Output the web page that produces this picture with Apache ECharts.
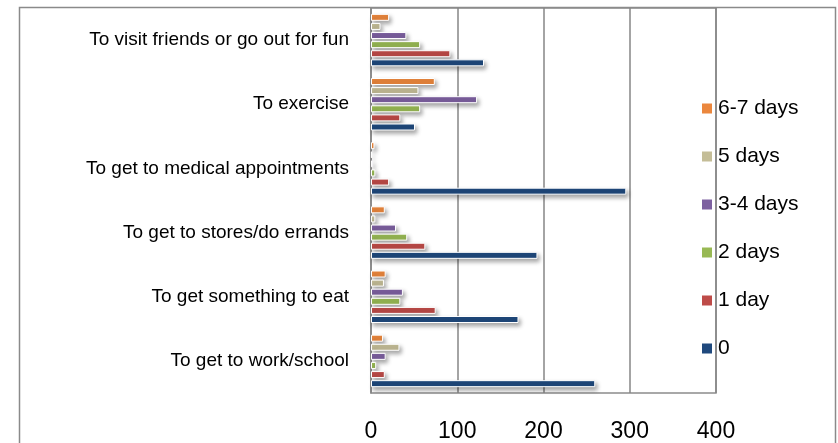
<!DOCTYPE html>
<html>
<head>
<meta charset="utf-8">
<script src="https://cdn.jsdelivr.net/npm/echarts@6/dist/echarts.min.js"></script>
<style>
html,body{margin:0;padding:0;background:#fff;}
#c{width:838px;height:443px;}
</style>
</head>
<body>
<div id="c"></div>
<script>
// categories bottom -> top (ECharts category y-axis starts at bottom)
var categories = [
  'To get to work/school',
  'To get something to eat',
  'To get to stores/do errands',
  'To get to medical appointments',
  'To exercise',
  'To visit friends or go out for fun'
];
var days0   = [260, 171, 193, 296, 51, 131];
var days1   = [16, 75, 63, 21, 34, 92];
var days2   = [6, 34, 42, 5, 57, 57];
var days34  = [17, 37, 29, 2, 123, 41];
var days5   = [33, 15, 5, 1, 55, 11];
var days67  = [14, 17, 16, 4, 74, 21];
// listed top -> bottom within each group
var seriesNames = ['6-7 days', '5 days', '3-4 days', '2 days', '1 day', '0'];
var seriesValues = [days67, days5, days34, days2, days1, days0];
var seriesColors = ['#EB873D', '#C4BD97', '#7D60A0', '#98B954', '#BE4B48', '#1F497D'];
var xTicks = [0, 100, 200, 300, 400];

var font = '"Liberation Sans", Arial, sans-serif';
var chart = echarts.init(document.getElementById('c'));
var series = seriesNames.map(function (n, i) {
  return {
    name: n,
    type: 'bar',
    data: seriesValues[i],
    barWidth: 7,
    barGap: '30%',
    itemStyle: {
      color: seriesColors[i],
      borderColor: '#ffffff',
      borderWidth: 1,
      shadowColor: 'rgba(0,0,0,0.35)',
      shadowBlur: 4,
      shadowOffsetX: 2,
      shadowOffsetY: 3
    },
    emphasis: { disabled: true }
  };
});

chart.setOption({
  animation: false,
  backgroundColor: '#ffffff',
  graphic: [{
    type: 'rect',
    shape: { x: 19.5, y: 7.5, width: 816, height: 500 },
    style: { fill: 'none', stroke: '#8a8a8a', lineWidth: 1.5 },
    z: -1
  }],
  grid: {
    left: 371, right: 122, top: 8, bottom: 50,
    show: true, borderColor: '#8c8c8c', borderWidth: 1.5
  },
  legend: {
    orient: 'vertical',
    left: 697,
    top: 93,
    itemWidth: 10,
    itemHeight: 10,
    itemGap: 27,
    icon: 'rect',
    itemStyle: { borderWidth: 0, shadowBlur: 0, shadowOffsetX: 0, shadowOffsetY: 0 },
    data: seriesNames,
    textStyle: { fontFamily: font, fontSize: 21, color: '#000', padding: [0, 0, 0, 1] }
  },
  xAxis: {
    type: 'value',
    min: 0, max: 400, interval: 100,
    axisLine: { show: false },
    axisTick: { show: false },
    splitLine: { show: true, lineStyle: { color: '#868686', width: 1.5 } },
    axisLabel: {
      fontFamily: font, fontSize: 23, color: '#000', margin: 27,
      formatter: function (v) { return xTicks.indexOf(v) >= 0 ? String(v) : ''; }
    }
  },
  yAxis: {
    type: 'category',
    data: categories,
    axisLine: { show: true, lineStyle: { color: '#8c8c8c', width: 1.5 } },
    axisTick: { show: false },
    axisLabel: { fontFamily: font, fontSize: 19, color: '#000', margin: 22 }
  },
  series: series
});
</script>
</body>
</html>
